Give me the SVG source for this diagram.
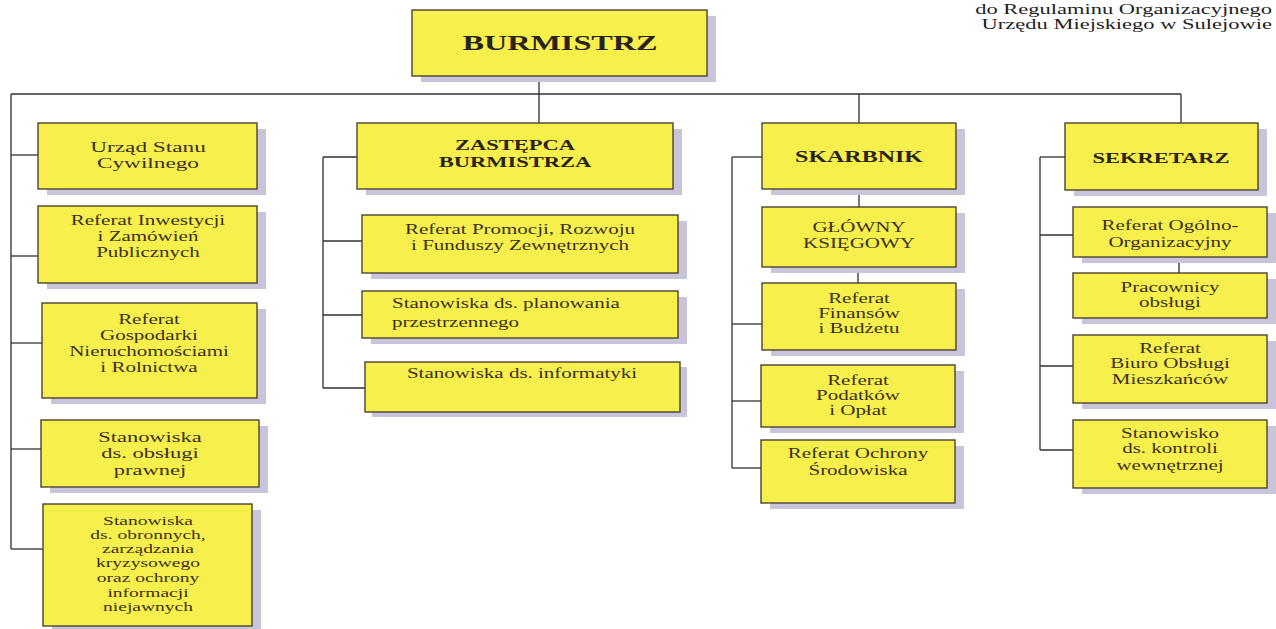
<svg xmlns="http://www.w3.org/2000/svg" width="1276" height="629" viewBox="0 0 1276 629">
<style>
.sh{fill:#c8c5da}
.box{fill:#f7ef4b;stroke:#4a4232;stroke-width:1.4}
.t{font-family:"Liberation Serif","Times New Roman",serif;font-size:14px;fill:#3a3024;text-anchor:middle}
.b{font-weight:bold;fill:#2a2418}
.l{text-anchor:start}
.hdr{font-family:"Liberation Serif","Times New Roman",serif;font-size:15px;fill:#222;text-anchor:end}
#connectors line{stroke:#2f2f38;stroke-width:1.3;fill:none}
</style>
<rect width="1276" height="629" fill="#ffffff"/>
<g id="header">
<text class="hdr" transform="translate(1272 0) scale(1.5 1)" x="0" y="14">do Regulaminu Organizacyjnego</text>
<text class="hdr" transform="translate(1272 0) scale(1.5 1)" x="0" y="29">Urzędu Miejskiego w Sulejowie</text>
</g>
<g id="connectors">
<line x1="11" y1="94" x2="1181" y2="94"/>
<line x1="539" y1="76" x2="539" y2="123"/>
<line x1="859" y1="94" x2="859" y2="123"/>
<line x1="1181" y1="94" x2="1181" y2="123"/>
<line x1="11" y1="94" x2="11" y2="549"/>
<line x1="11" y1="155" x2="38" y2="155"/>
<line x1="11" y1="256" x2="38" y2="256"/>
<line x1="11" y1="343" x2="42" y2="343"/>
<line x1="11" y1="449" x2="41" y2="449"/>
<line x1="11" y1="549" x2="43" y2="549"/>
<line x1="323" y1="157" x2="323" y2="388"/>
<line x1="323" y1="157" x2="357" y2="157"/>
<line x1="323" y1="241" x2="362" y2="241"/>
<line x1="323" y1="315" x2="362" y2="315"/>
<line x1="323" y1="388" x2="365" y2="388"/>
<line x1="732" y1="157" x2="732" y2="468"/>
<line x1="732" y1="157" x2="762" y2="157"/>
<line x1="732" y1="324" x2="762" y2="324"/>
<line x1="732" y1="401" x2="761" y2="401"/>
<line x1="732" y1="468" x2="761" y2="468"/>
<line x1="859" y1="189" x2="859" y2="207"/>
<line x1="858" y1="267" x2="858" y2="283"/>
<line x1="1040" y1="157" x2="1040" y2="450"/>
<line x1="1040" y1="157" x2="1065" y2="157"/>
<line x1="1040" y1="235" x2="1073" y2="235"/>
<line x1="1040" y1="366" x2="1073" y2="366"/>
<line x1="1040" y1="450" x2="1073" y2="450"/>
<line x1="1179" y1="257" x2="1179" y2="273"/>
</g>
<g id="n0">
<rect class="sh" x="421" y="16" width="295" height="66"/>
<rect class="box" x="412" y="10" width="295" height="66"/>
<text class="t b" style="font-size:21.5px" transform="translate(560 0) scale(1.5 1)" x="0" y="50">BURMISTRZ</text>
</g>
<g id="n1">
<rect class="sh" x="47" y="129" width="219" height="66"/>
<rect class="box" x="38" y="123" width="219" height="66"/>
<text class="t" style="font-size:15.5px" transform="translate(148 0) scale(1.5 1)"><tspan x="0" y="152">Urząd Stanu</tspan><tspan x="0" y="168">Cywilnego</tspan></text>
</g>
<g id="n2">
<rect class="sh" x="47" y="212" width="219" height="77"/>
<rect class="box" x="38" y="206" width="219" height="77"/>
<text class="t" transform="translate(148 0) scale(1.5 1)"><tspan x="0" y="225">Referat Inwestycji</tspan><tspan x="0" y="241">i Zamówień</tspan><tspan x="0" y="257">Publicznych</tspan></text>
</g>
<g id="n3">
<rect class="sh" x="51" y="309" width="215" height="95"/>
<rect class="box" x="42" y="303" width="215" height="95"/>
<text class="t" transform="translate(149 0) scale(1.5 1)"><tspan x="0" y="324">Referat</tspan><tspan x="0" y="340">Gospodarki</tspan><tspan x="0" y="356">Nieruchomościami</tspan><tspan x="0" y="372">i Rolnictwa</tspan></text>
</g>
<g id="n4">
<rect class="sh" x="50" y="426" width="218" height="67"/>
<rect class="box" x="41" y="420" width="218" height="67"/>
<text class="t" style="font-size:15px" transform="translate(150 0) scale(1.5 1)"><tspan x="0" y="442">Stanowiska</tspan><tspan x="0" y="458">ds. obsługi</tspan><tspan x="0" y="475">prawnej</tspan></text>
</g>
<g id="n5">
<rect class="sh" x="52" y="510" width="209" height="119"/>
<rect class="box" x="43" y="504" width="209" height="122"/>
<text class="t" style="font-size:13px" transform="translate(148 0) scale(1.5 1)"><tspan x="0" y="525">Stanowiska</tspan><tspan x="0" y="539">ds. obronnych,</tspan><tspan x="0" y="553">zarządzania</tspan><tspan x="0" y="567">kryzysowego</tspan><tspan x="0" y="582">oraz ochrony</tspan><tspan x="0" y="597">informacji</tspan><tspan x="0" y="611">niejawnych</tspan></text>
</g>
<g id="n6">
<rect class="sh" x="366" y="129" width="316" height="66"/>
<rect class="box" x="357" y="123" width="316" height="66"/>
<text class="t b" style="font-size:15px" transform="translate(515 0) scale(1.5 1)"><tspan x="0" y="150">ZASTĘPCA</tspan><tspan x="0" y="167">BURMISTRZA</tspan></text>
</g>
<g id="n7">
<rect class="sh" x="371" y="221" width="316" height="58"/>
<rect class="box" x="362" y="215" width="316" height="58"/>
<text class="t" transform="translate(520 0) scale(1.5 1)"><tspan x="0" y="234">Referat Promocji, Rozwoju</tspan><tspan x="0" y="250">i Funduszy Zewnętrznych</tspan></text>
</g>
<g id="n8">
<rect class="sh" x="371" y="297" width="316" height="47"/>
<rect class="box" x="362" y="291" width="316" height="47"/>
<text class="t l" transform="translate(392 0) scale(1.5 1)"><tspan x="0" y="308">Stanowiska ds. planowania</tspan><tspan x="0" y="327">przestrzennego</tspan></text>
</g>
<g id="n9">
<rect class="sh" x="372" y="367" width="315" height="50"/>
<rect class="box" x="365" y="362" width="315" height="50"/>
<text class="t" transform="translate(522 0) scale(1.5 1)" x="0" y="378">Stanowiska ds. informatyki</text>
</g>
<g id="n10">
<rect class="sh" x="771" y="129" width="194" height="66"/>
<rect class="box" x="762" y="123" width="194" height="66"/>
<text class="t b" style="font-size:16px" transform="translate(859 0) scale(1.5 1)" x="0" y="162">SKARBNIK</text>
</g>
<g id="n11">
<rect class="sh" x="771" y="213" width="194" height="60"/>
<rect class="box" x="762" y="207" width="194" height="60"/>
<text class="t" transform="translate(859 0) scale(1.5 1)"><tspan x="0" y="232">GŁÓWNY</tspan><tspan x="0" y="248">KSIĘGOWY</tspan></text>
</g>
<g id="n12">
<rect class="sh" x="771" y="289" width="194" height="67"/>
<rect class="box" x="762" y="283" width="194" height="67"/>
<text class="t" transform="translate(859 0) scale(1.5 1)"><tspan x="0" y="303">Referat</tspan><tspan x="0" y="318">Finansów</tspan><tspan x="0" y="333">i Budżetu</tspan></text>
</g>
<g id="n13">
<rect class="sh" x="770" y="371" width="194" height="62"/>
<rect class="box" x="761" y="365" width="194" height="62"/>
<text class="t" transform="translate(858 0) scale(1.5 1)"><tspan x="0" y="385">Referat</tspan><tspan x="0" y="400">Podatków</tspan><tspan x="0" y="415">i Opłat</tspan></text>
</g>
<g id="n14">
<rect class="sh" x="770" y="446" width="194" height="63"/>
<rect class="box" x="761" y="440" width="194" height="63"/>
<text class="t" transform="translate(858 0) scale(1.5 1)"><tspan x="0" y="458">Referat Ochrony</tspan><tspan x="0" y="475">Środowiska</tspan></text>
</g>
<g id="n15">
<rect class="sh" x="1074" y="129" width="193" height="67"/>
<rect class="box" x="1065" y="123" width="193" height="67"/>
<text class="t b" style="font-size:15px" transform="translate(1161 0) scale(1.5 1)" x="0" y="163">SEKRETARZ</text>
</g>
<g id="n16">
<rect class="sh" x="1082" y="213" width="194" height="50"/>
<rect class="box" x="1073" y="207" width="194" height="50"/>
<text class="t" transform="translate(1170 0) scale(1.5 1)"><tspan x="0" y="230">Referat Ogólno-</tspan><tspan x="0" y="247">Organizacyjny</tspan></text>
</g>
<g id="n17">
<rect class="sh" x="1082" y="279" width="194" height="45"/>
<rect class="box" x="1073" y="273" width="194" height="45"/>
<text class="t" transform="translate(1170 0) scale(1.5 1)"><tspan x="0" y="292">Pracownicy</tspan><tspan x="0" y="307">obsługi</tspan></text>
</g>
<g id="n18">
<rect class="sh" x="1082" y="341" width="194" height="68"/>
<rect class="box" x="1073" y="335" width="194" height="68"/>
<text class="t" transform="translate(1170 0) scale(1.5 1)"><tspan x="0" y="353">Referat</tspan><tspan x="0" y="368">Biuro Obsługi</tspan><tspan x="0" y="384">Mieszkańców</tspan></text>
</g>
<g id="n19">
<rect class="sh" x="1082" y="426" width="194" height="68"/>
<rect class="box" x="1073" y="420" width="194" height="68"/>
<text class="t" transform="translate(1170 0) scale(1.5 1)"><tspan x="0" y="438">Stanowisko</tspan><tspan x="0" y="453">ds. kontroli</tspan><tspan x="0" y="470">wewnętrznej</tspan></text>
</g>
</svg>
